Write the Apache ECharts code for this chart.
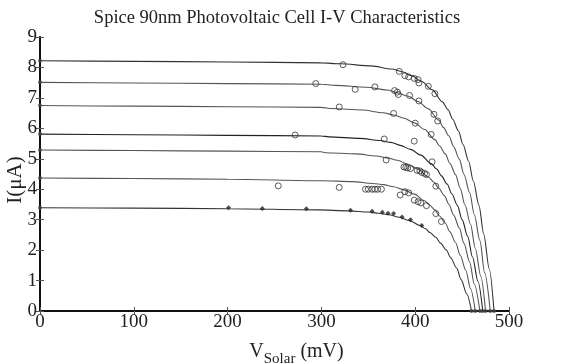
<!DOCTYPE html>
<html>
<head>
<meta charset="utf-8">
<script src="https://cdn.jsdelivr.net/npm/echarts/dist/echarts.min.js"></script>
<style>
html,body{margin:0;padding:0;background:#fff;}
#chart{width:579px;height:364px;}
</style>
</head>
<body>
<div id="chart"></div>
<script>
// Simulated I-V curves (V in mV, I in uA)
const vA = [0,100,200,300,320,353,375,386,396,407,418,429,435,440,446,451,457,462,468,473,479,484];
const iA = [8.22,8.20,8.18,8.15,8.12,8.05,7.95,7.86,7.73,7.54,7.27,6.87,6.61,6.30,5.92,5.47,4.92,4.26,3.47,2.53,1.38,0];
const vB = [0,100,200,300,315,348,370,381,392,403,414,425,430,436,441,447,452,458,463,469,474,480];
const iB = [7.51,7.49,7.47,7.45,7.41,7.35,7.26,7.17,7.06,6.88,6.64,6.27,6.03,5.75,5.40,4.99,4.49,3.89,3.17,2.31,1.26,0];
const vC = [0,100,200,300,311,344,366,377,388,399,410,421,426,432,437,443,448,453,459,464,470,475];
const iC = [6.75,6.73,6.71,6.69,6.65,6.60,6.51,6.44,6.33,6.18,5.96,5.63,5.42,5.16,4.85,4.48,4.03,3.49,2.85,2.07,1.13,0];
const vD = [0,100,200,300,308,341,363,374,384,395,406,417,423,428,434,439,445,450,456,461,467,472];
const iD = [5.81,5.79,5.77,5.75,5.72,5.67,5.60,5.54,5.44,5.31,5.12,4.84,4.66,4.44,4.17,3.85,3.47,3.00,2.45,1.78,0.97,0];
const vE = [0,100,200,300,304,337,359,370,381,392,403,414,420,425,431,436,441,447,452,458,463,469];
const iE = [5.29,5.27,5.25,5.23,5.20,5.16,5.09,5.03,4.95,4.83,4.66,4.40,4.23,4.04,3.79,3.50,3.15,2.73,2.22,1.62,0.88,0];
const vF = [0,100,200,300,333,355,366,377,388,399,410,415,421,426,432,437,443,448,454,459,464];
const iF = [4.37,4.35,4.33,4.28,4.25,4.19,4.15,4.08,3.98,3.84,3.62,3.49,3.32,3.12,2.89,2.60,2.25,1.83,1.33,0.73,0];
const vG = [0,100,200,296,329,350,361,372,383,394,405,411,416,422,427,433,438,444,449,455,460];
const iG = [3.39,3.38,3.36,3.32,3.29,3.25,3.21,3.16,3.08,2.97,2.81,2.70,2.57,2.42,2.23,2.01,1.74,1.42,1.03,0.56,0];

// Measured points (open circles)
const circV = [323,383,389,393,399,403,404,414,421,
               294,336,357,378,381,382,394,404,420,424,
               319,377,400,417,399,
               272,367,418,369,
               388,390,392,395,402,405,407,410,412,422,
               254,319,347,350,354,357,360,364,384,389,393,399,403,406,412,422,428];
const circI = [8.09,7.87,7.73,7.69,7.64,7.60,7.49,7.38,7.14,
               7.47,7.28,7.36,7.24,7.19,7.11,7.08,6.90,6.46,6.24,
               6.70,6.49,6.17,5.80,5.58,
               5.78,5.65,4.90,4.96,
               4.73,4.72,4.70,4.68,4.62,4.60,4.55,4.52,4.48,4.10,
               4.11,4.06,4.00,4.00,4.00,4.00,4.00,4.00,3.81,3.92,3.88,3.64,3.59,3.55,3.46,3.20,2.94];

// Measured points (filled diamonds)
const diamV = [201,237,284,331,354,365,371,377,386,395,407];
const diamI = [3.39,3.37,3.36,3.31,3.28,3.24,3.21,3.20,3.09,3.00,2.81];

// Curve end points
const iscI = [8.22,7.51,6.75,5.81,5.29,4.37,3.39];
const vocV = [484,480,475,472,469,464,460];

const xTicks = [0,100,200,300,400,500];
const yTicks = [0,1,2,3,4,5,6,7,8,9];

const FONT = 'Liberation Serif';
const zip = (a, b) => a.map((v, k) => [v, b[k]]);
const curves = [[vA,iA],[vB,iB],[vC,iC],[vD,iD],[vE,iE],[vF,iF],[vG,iG]];
const lineColors = ['#333','#555','#555','#222','#555','#555','#333'];

const series = curves.map((c, k) => ({
  type: 'line',
  data: zip(c[0], c[1]),
  showSymbol: false,
  smooth: 0.3,
  smoothMonotone: 'x',
  lineStyle: { color: lineColors[k], width: 1.1 },
  z: 2
}));
series.push({
  type: 'scatter',
  data: zip(circV, circI),
  symbol: 'circle',
  symbolSize: 6,
  itemStyle: { color: 'rgba(0,0,0,0)', borderColor: '#333', borderWidth: 1 },
  z: 3
});
series.push({
  type: 'scatter',
  data: zip(diamV, diamI),
  symbol: 'diamond',
  symbolSize: 5,
  itemStyle: { color: '#222' },
  z: 3
});
series.push({
  type: 'scatter',
  data: iscI.map(v => [0, v]).concat(vocV.map(v => [v, 0])),
  symbol: 'circle',
  symbolSize: 4,
  itemStyle: { color: '#444' },
  z: 3
});

const axisLineStyle = { color: '#111', width: 2 };
const tickStyle = { show: true, inside: true, length: 4, lineStyle: { color: '#555', width: 1 } };
const chart = echarts.init(document.getElementById('chart'), null, { renderer: 'canvas' });
chart.setOption({
  animation: false,
  backgroundColor: '#fff',
  title: {
    text: 'Spice 90nm Photovoltaic Cell I-V Characteristics',
    left: 272, top: 4, textAlign: 'center',
    textStyle: { fontFamily: FONT, fontSize: 18.5, fontWeight: 'normal', color: '#222' }
  },
  grid: { left: 40, right: 70, top: 37, bottom: 53, containLabel: false, outerBoundsMode: 'none' },
  xAxis: [{
    type: 'value', min: 0, max: 500, interval: 100,
    position: 'bottom',
    axisLine: { show: true, lineStyle: axisLineStyle },
    axisTick: tickStyle,
    axisLabel: { fontFamily: FONT, fontSize: 19, color: '#222', margin: 2 },
    splitLine: { show: false },
    name: '{a|V}{b|Solar}{a| (mV)}',
    nameLocation: 'middle', nameGap: 25,
    nameTextStyle: {
      padding: [0, 0, 0, 44],
      rich: {
        a: { fontFamily: FONT, fontSize: 20, color: '#222' },
        b: { fontFamily: FONT, fontSize: 15, color: '#222', padding: [16, 0, 0, 0] }
      }
    }
  }, {
    type: 'value', min: 0, max: 500, interval: 100,
    position: 'top',
    axisLine: { show: true, lineStyle: axisLineStyle },
    axisTick: tickStyle,
    axisLabel: { show: false },
    splitLine: { show: false }
  }],
  yAxis: [{
    type: 'value', min: 0, max: 9, interval: 1,
    position: 'left',
    axisLine: { show: true, lineStyle: axisLineStyle },
    axisTick: tickStyle,
    axisLabel: { fontFamily: FONT, fontSize: 19, color: '#222', margin: 3 },
    splitLine: { show: false },
    name: 'I(μA)',
    nameLocation: 'middle', nameGap: 14, nameMoveOverlap: false,
    nameTextStyle: { fontFamily: FONT, fontSize: 21, color: '#222', padding: [0, 12, 0, 0] }
  }, {
    type: 'value', min: 0, max: 9, interval: 1,
    position: 'right',
    axisLine: { show: true, lineStyle: axisLineStyle },
    axisTick: tickStyle,
    axisLabel: { show: false },
    splitLine: { show: false }
  }],
  series: series
});
</script>
</body>
</html>
